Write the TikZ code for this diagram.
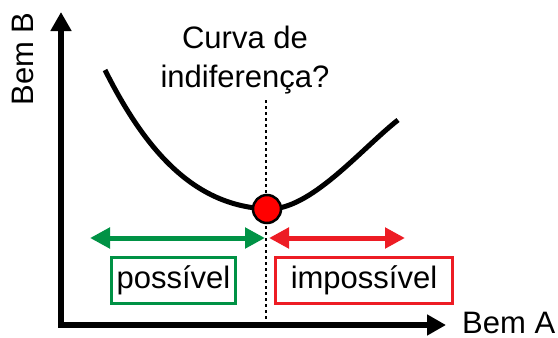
\documentclass[tikz,border=0pt]{standalone}
\usepackage{fontspec}
\setmainfont{Liberation Sans}
\usetikzlibrary{arrows.meta, positioning}
\definecolor{okgreen}{HTML}{009245}
\definecolor{badred}{HTML}{ED1C24}

\begin{document}
\begin{tikzpicture}[
  x=1pt, y=-1pt,
  axisline/.style={line width=5.5pt, -{Triangle[length=19pt,width=20pt]}},
  txt/.style={font=\fontsize{31}{39}\selectfont, inner sep=0pt, align=center},
  spanarrow/.style={line width=5pt, {Triangle[length=20pt,width=20pt]}-{Triangle[length=20pt,width=20pt]}},
  rangebox/.style={draw, line width=3pt, minimum width=124pt, minimum height=46pt,
                   font=\fontsize{31}{39}\selectfont, inner sep=0pt},
  optpoint/.style={circle, draw, line width=2.5pt, fill=red, minimum size=28pt, inner sep=0pt},
]
  \useasboundingbox (0,0) rectangle (558,338);
  % Axes
  \coordinate (O) at (61,325);
  \coordinate (Ytop) at (61,12);
  \coordinate (Xend) at (446,325);
  \draw[axisline] ([yshift=2.75pt]O) -- (Ytop);
  \draw[axisline] ([xshift=-2.75pt]O) -- (Xend);
  \node[txt, rotate=90, anchor=base] (BemB) at (33,59) {Bem B};
  \node[txt, anchor=base west] (BemA) at (462,333) {Bem A};

  % Question
  \node[txt] (Q) at (245,60) {Curva de\\indiferença?};

  % Dotted line through the optimum
  \coordinate (Dtop) at (266,100);
  \coordinate (Dbot) at (266,325);
  \draw[line width=2pt, dash pattern=on 2.5pt off 3.5pt] (Dtop) -- (Dbot);

  % Curve
  \coordinate (C0) at (105,70);
  \coordinate (C2) at (398,120);
  \coordinate (P) at (267,209);
  \draw[line width=5pt] (C0) .. controls (150,160) and (200,206) .. (P)
    .. controls (310,211) and (360,150) .. (C2);
  \node[optpoint] (Pt) at (P) {};

  % Ranges
  \coordinate (Gl) at (90,238);
  \coordinate (Gr) at (265,238);
  \coordinate (Rl) at (269,238);
  \coordinate (Rr) at (405,238);
  \draw[spanarrow, okgreen] (Gl) -- (Gr);
  \draw[spanarrow, badred] (Rl) -- (Rr);
  \node[rangebox, draw=okgreen] (poss) at (173.5,280) {possível};
  \node[rangebox, draw=badred, minimum width=177pt] (imposs) at (364,280) {impossível};
\end{tikzpicture}
\end{document}
